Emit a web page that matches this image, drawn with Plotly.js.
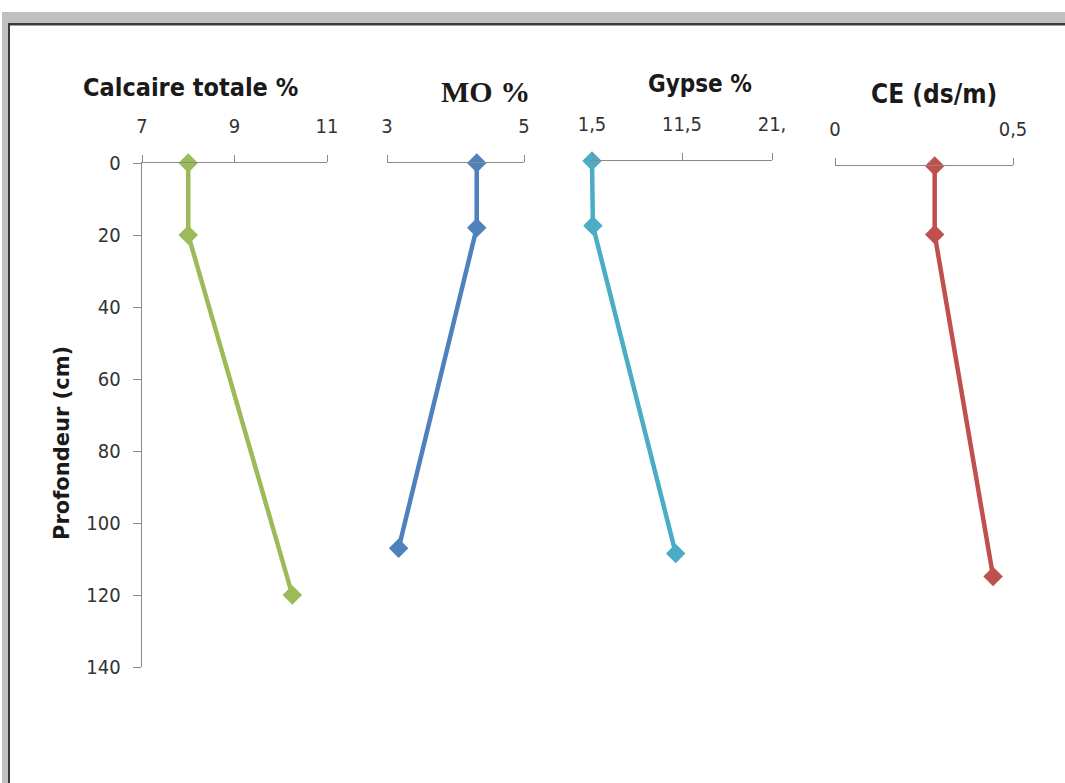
<!DOCTYPE html>
<html>
<head>
<meta charset="utf-8">
<script src="https://cdn.plot.ly/plotly-3.0.1.min.js"></script>
<style>
html,body{margin:0;padding:0;background:#fff;}
#chart{width:1065px;height:783px;}
</style>
</head>
<body>
<div id="chart"></div>
<script>
// ---- Data ----
const depthCalcaire = [0, 20, 120];
const calcaire = [8.0, 8.0, 10.25];

const depthMO = [0, 18, 107];
const mo = [4.31, 4.31, 3.17];

const depthGypse = [0, 18, 109];
const gypse = [1.5, 1.6, 10.8];

const depthCE = [0, 19, 114];
const ce = [0.28, 0.28, 0.444];

const depthTicks = [0, 20, 40, 60, 80, 100, 120, 140];
const calcaireTicks = [7, 9, 11];
const calcaireTickText = ["7", "9", "11"];
const moTicks = [3, 5];
const moTickText = ["3", "5"];
const gypseTicks = [1.5, 11.5, 21.5];
const gypseTickText = ["1,5", "11,5", "21,"];
const ceTicks = [0, 0.5];
const ceTickText = ["0", "0,5"];

// ---- Helpers (pixel -> paper) ----
const W = 1065, H = 783;
const fx = p => p / W;
const fy = p => 1 - p / H;

const TICKFONT = {family: "DejaVu Sans Condensed, Liberation Sans Narrow, sans-serif", size: 20, color: "#333333"};
const AXCOL = "#8a8a8a";
const SANS = "DejaVu Sans Condensed, Liberation Sans, sans-serif";

const yTop = 163, yBot = 667;
function yDom(base) { return [fy(base + (yBot - yTop)), fy(base)]; }

const green = "#9BBB59", blue = "#4F81BD", cyan = "#4BACC6", red = "#C0504D";

function trace(x, y, color, xa, ya) {
  return {
    x: x, y: y, xaxis: xa, yaxis: ya, type: "scatter", mode: "lines+markers",
    cliponaxis: false,
    line: {color: color, width: 4.5},
    marker: {symbol: "diamond", size: 15, color: color},
    showlegend: false, hoverinfo: "x+y"
  };
}

const data = [
  trace(calcaire, depthCalcaire, green, "x", "y"),
  trace(mo, depthMO, blue, "x2", "y"),
  trace(gypse, depthGypse, cyan, "x3", "y2"),
  trace(ce, depthCE, red, "x4", "y3")
];

function xax(d0, d1, range, tv, tt, anchor) {
  return {
    domain: [fx(d0), fx(d1)], range: range, anchor: anchor, side: "top",
    tickmode: "array", tickvals: tv, ticktext: tt,
    ticks: "outside", ticklen: 7, tickcolor: AXCOL, tickwidth: 1,
    ticklabelstandoff: 14,
    showline: true, linecolor: AXCOL, linewidth: 1.3,
    showgrid: false, zeroline: false, tickfont: TICKFONT, fixedrange: true
  };
}

// gypse axis: domain starts 3px left of the 1,5 tick so the line at 1,5 is not clipped
const gypsePxPerUnit = (772 - 592) / (21.5 - 1.5);

const layout = {
  width: W, height: H,
  margin: {l: 0, r: 0, t: 0, b: 0, pad: 0},
  paper_bgcolor: "#ffffff", plot_bgcolor: "rgba(0,0,0,0)",
  showlegend: false,
  xaxis: xax(142, 327, [7, 11], calcaireTicks, calcaireTickText, "y"),
  xaxis2: xax(387, 524, [3, 5], moTicks, moTickText, "y"),
  xaxis3: xax(589, 772, [1.5 - 3 / gypsePxPerUnit, 21.5], gypseTicks, gypseTickText, "y2"),
  xaxis4: xax(835, 1013, [0, 0.5], ceTicks, ceTickText, "y3"),
  yaxis: {
    domain: yDom(163), range: [140, 0], anchor: "x",
    tickmode: "array", tickvals: depthTicks,
    ticks: "outside", ticklen: 8, tickcolor: AXCOL, tickwidth: 1,
    ticklabelstandoff: 8,
    showline: true, linecolor: AXCOL, linewidth: 1.3,
    showgrid: false, zeroline: false, tickfont: TICKFONT, fixedrange: true
  },
  yaxis2: {domain: yDom(161), range: [140, 0], anchor: "x3", visible: false, fixedrange: true},
  yaxis3: {domain: yDom(166), range: [140, 0], anchor: "x4", visible: false, fixedrange: true},
  annotations: [
    {text: "<b>Calcaire totale %</b>", x: fx(190), y: fy(87), xref: "paper", yref: "paper", showarrow: false,
     xanchor: "center", yanchor: "middle", font: {family: SANS, size: 25, color: "#1a1a1a"}},
    {text: "<b>MO %</b>", x: fx(485), y: fy(91), xref: "paper", yref: "paper", showarrow: false,
     xanchor: "center", yanchor: "middle", font: {family: "Liberation Serif, DejaVu Serif, serif", size: 30, color: "#1a1a1a"}},
    {text: "<b>Gypse %</b>", x: fx(700), y: fy(84), xref: "paper", yref: "paper", showarrow: false,
     xanchor: "center", yanchor: "middle", font: {family: SANS, size: 24, color: "#1a1a1a"}},
    {text: "<b>CE (ds/m)</b>", x: fx(934), y: fy(94), xref: "paper", yref: "paper", showarrow: false,
     xanchor: "center", yanchor: "middle", font: {family: SANS, size: 26, color: "#1a1a1a"}},
    {text: "<b>Profondeur (cm)</b>", x: fx(62), y: fy(443), xref: "paper", yref: "paper", showarrow: false,
     textangle: -90, xanchor: "center", yanchor: "middle", font: {family: "DejaVu Sans, sans-serif", size: 21, color: "#1a1a1a"}}
  ],
  shapes: [
    {type: "rect", xref: "paper", yref: "paper", x0: fx(2), x1: fx(1065), y0: fy(23), y1: fy(12), fillcolor: "#c0c0c0", line: {width: 0}, layer: "below"},
    {type: "rect", xref: "paper", yref: "paper", x0: fx(2), x1: fx(8), y0: fy(783), y1: fy(12), fillcolor: "#c0c0c0", line: {width: 0}, layer: "below"},
    {type: "rect", xref: "paper", yref: "paper", x0: fx(8), x1: fx(1065), y0: fy(25.5), y1: fy(23), fillcolor: "#3a3a3a", line: {width: 0}, layer: "below"},
    {type: "rect", xref: "paper", yref: "paper", x0: fx(8), x1: fx(10), y0: fy(783), y1: fy(23), fillcolor: "#3a3a3a", line: {width: 0}, layer: "below"}
  ]
};

Plotly.newPlot("chart", data, layout, {displayModeBar: false, staticPlot: true});
</script>
</body>
</html>
